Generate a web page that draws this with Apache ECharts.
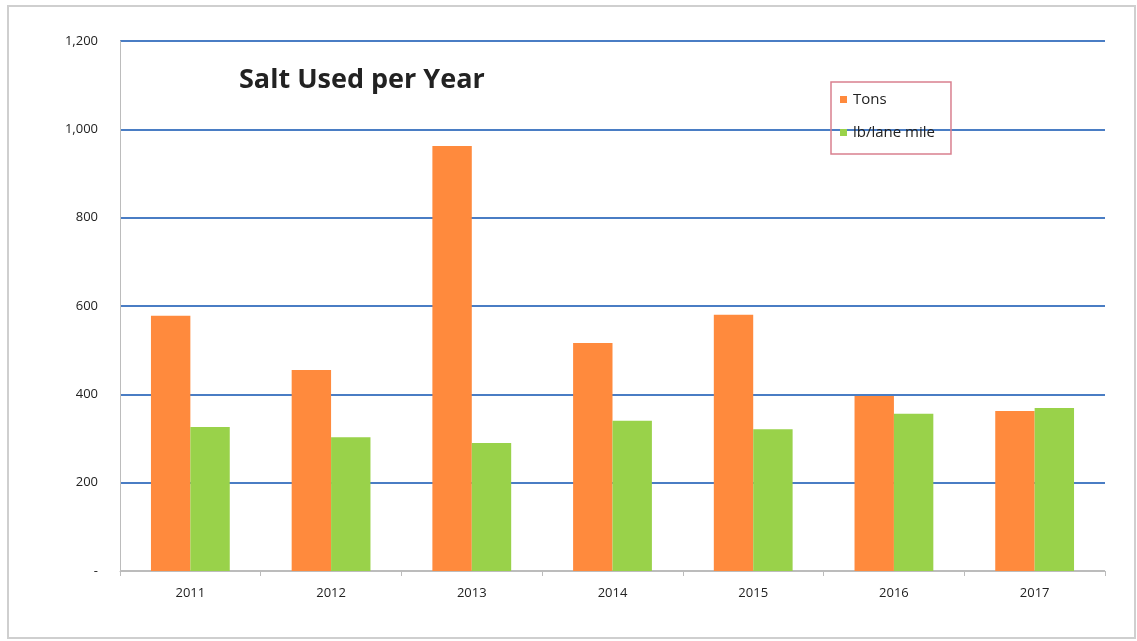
<!DOCTYPE html>
<html><head><meta charset="utf-8">
<script src="https://cdn.jsdelivr.net/npm/echarts@6/dist/echarts.min.js"></script>
<style>html,body{margin:0;padding:0;background:#fff}#c{width:1137px;height:641px}</style>
</head><body><div id="c"></div>
<script>
const years = ['2011','2012','2013','2014','2015','2016','2017'];
const tons = [578, 455, 962, 516, 580, 396, 362];
const lbPerLaneMile = [326, 303, 290, 340, 321, 356, 369];
const seriesNames = ['Tons', 'lb/lane mile'];
const chart = echarts.init(document.getElementById('c'));
chart.setOption({
  animation: false,
  backgroundColor: '#fff',
  graphic: [{type:'rect', shape:{x:8,y:6,width:1127,height:632}, style:{fill:'none', stroke:'#cfcfcf', lineWidth:2}}],
  title: {text:'Salt Used per Year', left:234, top:62, textStyle:{fontFamily:'Open Sans', fontSize:27, fontWeight:'bold', color:'#222'}},
  legend: {
    data: seriesNames, orient:'vertical', left:831, top:82, itemWidth:7, itemHeight:7, itemGap:18,
    borderColor:'#d9808f', borderWidth:1.5, padding:[10,16,14,9],
    textStyle:{fontFamily:'Open Sans', fontSize:15, color:'#222', padding:[0,0,0,1]}, icon:'rect'
  },
  grid: {left:120, right:32, top:41, bottom:70},
  xAxis: {type:'category', data:years,
    axisLine:{lineStyle:{color:'#bcbcbc'}}, axisTick:{show:true, lineStyle:{color:'#bcbcbc'}},
    axisLabel:{fontFamily:'Open Sans', fontSize:13, fontWeight:500, color:'#222', margin:16}},
  yAxis: {type:'value', min:0, max:1200, interval:200,
    axisLine:{show:true, lineStyle:{color:'#bcbcbc'}}, axisTick:{show:false},
    axisLabel:{fontFamily:'Open Sans', fontSize:13, fontWeight:500, color:'#222', margin:22,
      formatter: v => v === 0 ? '-' : v.toLocaleString('en-US')},
    splitLine:{lineStyle:{color:['#bcbcbc','#4a7dc4','#4a7dc4','#4a7dc4','#4a7dc4','#4a7dc4','#4a7dc4'], width:2}}},
  series: [
    {name:seriesNames[0], type:'bar', data:tons, barGap:'0%', barCategoryGap:'44%', itemStyle:{color:'#ff8a3d'}},
    {name:seriesNames[1], type:'bar', data:lbPerLaneMile, itemStyle:{color:'#99d24a'}}
  ]
});
</script></body></html>
